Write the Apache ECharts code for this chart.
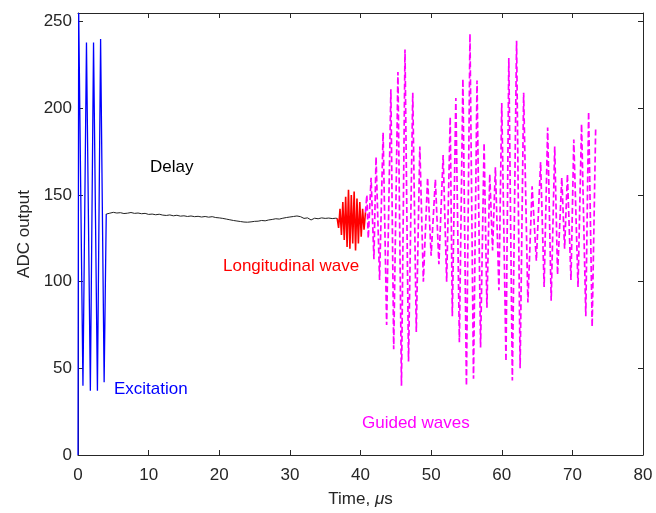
<!DOCTYPE html>
<html>
<head>
<meta charset="utf-8">
<script src="https://cdn.jsdelivr.net/npm/echarts@6/dist/echarts.min.js"></script>
<style>html,body{margin:0;padding:0;background:#fff}#c{width:656px;height:513px}</style>
</head>
<body>
<div id="c"></div>
<script>
// ---- data ----
var xTicks = [0, 10, 20, 30, 40, 50, 60, 70, 80];
var yTicks = [0, 50, 100, 150, 200, 250];

var excitationT = [0, 0.1, 0.7, 1.2, 1.75, 2.2, 2.75, 3.2, 3.7, 4.0];
var excitationV = [0, 255, 40, 238, 37, 238, 37, 240, 42, 139];

var delayT = [4.0, 4.5, 5, 5.5, 6, 6.5, 7, 7.5, 8, 8.5, 9, 9.5, 10, 10.5, 11, 11.5, 12, 12.5, 13, 13.5,
  14, 14.5, 15, 15.5, 16, 16.5, 17, 17.5, 18, 18.5, 19, 19.5, 20, 20.5, 21, 21.5, 22, 22.5, 23, 23.5,
  24, 24.5, 25, 25.5, 26, 26.5, 27, 27.5, 28, 28.5, 29, 29.5, 30, 30.5, 31, 31.5, 32, 32.5, 33, 33.5,
  34, 34.5, 35, 35.5, 36, 36.5, 36.7];
var delayV = [139, 139.5, 140, 139.6, 139.8, 139.3, 139.5, 139.9, 139.4, 139.6, 139.2, 139.4, 138.8, 139, 138.6, 138.9, 138.4, 138.2, 138.5, 138,
  138.3, 137.8, 138, 137.6, 137.9, 137.5, 137.7, 137.3, 137.6, 137.2, 137.5, 137, 136.8, 136.5, 136.1, 135.7, 135.3, 135, 134.7, 134.4,
  134.3, 134.5, 134.8, 134.9, 135.3, 135.1, 135.6, 135.9, 136.3, 136.1, 136.6, 137, 137.3, 137.6, 137.9, 137.5, 136.5, 136.8, 135.6, 136.6,
  136.3, 136.8, 136.5, 136.7, 136.4, 136.6, 136.5];

var longT = [36.7, 36.9, 37.1, 37.3, 37.5, 37.7, 37.9, 38.1, 38.3, 38.5, 38.7, 38.9, 39.1, 39.3, 39.5, 39.7, 39.9, 40.1, 40.3, 40.5, 40.7];
var longV = [136.5, 131, 142, 127, 146, 124, 149, 120, 153, 119, 150, 122, 152, 118, 148, 122, 146, 126, 142, 130, 140];

var guidedT = [40.7, 40.9, 41.1, 41.5, 41.9, 42.2, 42.7, 43.2, 43.7, 44.3, 44.7, 45.3, 45.8, 46.3, 46.8, 47.4, 47.9, 48.4, 48.9, 49.5,
  50.0, 50.6, 51.1, 51.7, 52.2, 52.7, 53.0, 53.5, 54.0, 54.5, 55.0, 55.5, 56.0, 56.5, 57.0, 57.5, 57.9, 58.3, 58.7, 59.1,
  59.6, 60.0, 60.6, 61.0, 61.5, 62.1, 62.6, 63.1, 63.7, 64.3, 64.9, 65.5, 66.0, 66.5, 67.0, 67.5, 67.9, 68.5, 68.9, 69.3,
  69.8, 70.2, 70.8, 71.3, 71.9, 72.3, 72.8, 73.3];
var guidedV = [140, 150, 125, 160, 113, 172, 101, 186, 75, 211, 61, 221, 40, 234, 54, 209, 71, 178, 100, 160,
  115, 159, 110, 173, 100, 195, 80, 206, 65, 217, 40, 243, 44, 216, 62, 180, 85, 162, 118, 166,
  95, 203, 54, 229, 43, 239, 50, 209, 88, 155, 112, 169, 97, 189, 89, 178, 104, 160, 119, 162,
  101, 182, 97, 191, 80, 198, 74, 189];

function pairs(t, v) { return t.map(function (x, i) { return [x, v[i]]; }); }

var FONT = '"Liberation Sans", Arial, Helvetica, sans-serif';
var AX = '#262626';
var FS = 17;

var chart = echarts.init(document.getElementById('c'), null, { renderer: 'canvas' });
var axisCommon = {
  axisLine: { show: true, onZero: false, lineStyle: { color: AX, width: 1 } },
  axisTick: { show: true, inside: true, length: 5, lineStyle: { color: AX } },
  splitLine: { show: false }
};
chart.setOption({
  animation: false,
  backgroundColor: '#fff',
  grid: { left: 78, right: 13, top: 13, bottom: 56, containLabel: false },
  xAxis: [
    Object.assign({}, axisCommon, {
      type: 'value', min: xTicks[0], max: xTicks[xTicks.length - 1], interval: 10, position: 'bottom',
      axisLabel: { color: AX, fontSize: FS, fontFamily: FONT, margin: 12 },
      name: 'Time, {i|μ}s', nameLocation: 'middle', nameGap: 36,
      nameTextStyle: { color: AX, fontSize: FS, fontFamily: FONT,
        rich: { i: { fontStyle: 'italic', fontSize: FS, fontFamily: FONT, color: AX } } }
    }),
    Object.assign({}, axisCommon, {
      type: 'value', min: xTicks[0], max: xTicks[xTicks.length - 1], interval: 10, position: 'top',
      axisLabel: { show: false }
    })
  ],
  yAxis: [
    Object.assign({}, axisCommon, {
      type: 'value', min: yTicks[0], max: 255, interval: 50, position: 'left',
      axisLabel: { color: AX, fontSize: FS, fontFamily: FONT, margin: 6, showMaxLabel: false,
        formatter: function (v) { return yTicks.indexOf(v) >= 0 ? String(v) : ''; } },
      name: 'ADC output', nameLocation: 'middle', nameGap: 42,
      nameTextStyle: { color: AX, fontSize: FS, fontFamily: FONT }
    }),
    Object.assign({}, axisCommon, {
      type: 'value', min: yTicks[0], max: 255, interval: 50, position: 'right',
      axisLabel: { show: false }
    })
  ],
  series: [
    { type: 'line', name: 'Excitation', data: pairs(excitationT, excitationV), showSymbol: false,
      lineStyle: { color: '#0000ff', width: 1.3 }, z: 3 },
    { type: 'line', name: 'Delay', data: pairs(delayT, delayV), showSymbol: false,
      lineStyle: { color: '#222', width: 1 }, z: 3 },
    { type: 'line', name: 'Longitudinal wave', data: pairs(longT, longV), showSymbol: false,
      lineStyle: { color: '#ff0000', width: 1.6 }, z: 4 },
    { type: 'line', name: 'Guided waves', data: pairs(guidedT, guidedV), showSymbol: false,
      lineStyle: { color: '#ff00ff', width: 1.7, type: [6, 3] }, z: 3 }
  ],
  graphic: [
    { type: 'text', left: 150, top: 159, style: { text: 'Delay', fill: '#000', font: FS + 'px ' + FONT } },
    { type: 'text', left: 223, top: 258, style: { text: 'Longitudinal wave', fill: '#ff0000', font: FS + 'px ' + FONT } },
    { type: 'text', left: 114, top: 381, style: { text: 'Excitation', fill: '#0000ff', font: FS + 'px ' + FONT } },
    { type: 'text', left: 362, top: 415, style: { text: 'Guided waves', fill: '#ff00ff', font: FS + 'px ' + FONT } }
  ]
});
</script>
</body>
</html>
